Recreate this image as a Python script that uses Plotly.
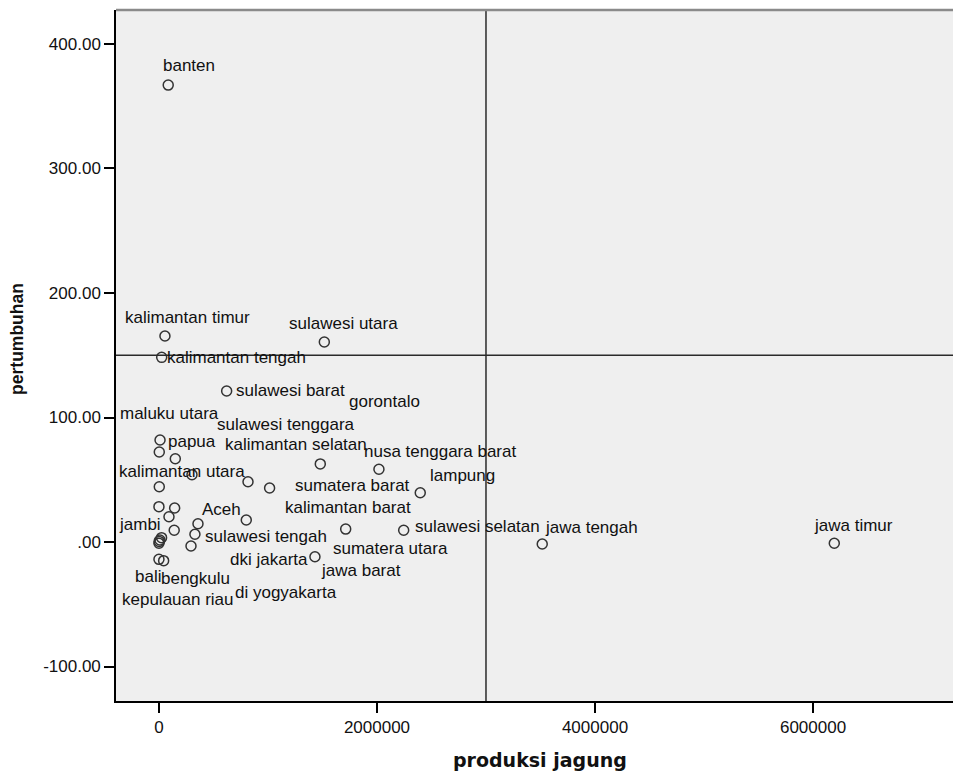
import plotly.graph_objects as go

# ---- data ----
provinces = [
    "banten", "kalimantan timur", "sulawesi utara", "kalimantan tengah", "sulawesi barat",
    "gorontalo", "maluku utara", "sulawesi tenggara", "papua", "kalimantan selatan",
    "nusa tenggara barat", "lampung", "kalimantan utara", "sumatera barat", "kalimantan barat",
    "Aceh", "jambi", "sulawesi tengah", "sulawesi selatan", "jawa tengah",
    "jawa timur", "sumatera utara", "dki jakarta", "jawa barat", "bali",
    "bengkulu", "kepulauan riau", "di yogyakarta",
    "nusa tenggara timur", "riau", "kepulauan bangka belitung", "maluku", "papua barat",
    "sumatera selatan",
]
produksi_jagung = [
    85000, 55000, 1517000, 25000, 621000,
    1480000, 3000, 150000, 10000, 303000,
    2018000, 2397000, 3000, 1015000, 801000,
    358000, 0, 330000, 2245000, 3516000,
    6195000, 1713000, 0, 1431000, 0,
    43000, 2000, 294000,
    817000, 144000, 92000, 140000, 24000,
    9000,
]
pertumbuhan = [
    367.0, 165.5, 160.6, 148.3, 121.3,
    62.7, 72.3, 66.9, 81.9, 54.1,
    58.4, 39.6, 44.4, 43.4, 17.7,
    14.7, 28.4, 6.2, 9.4, -1.6,
    -1.0, 10.4, -1.0, -11.8, -13.9,
    -15.0, 0.5, -3.2,
    48.4, 27.3, 20.3, 9.4, 3.5,
    1.6,
]
# which provinces got a visible label (SPSS hid overlapping ones)
label_shown = [True] * 28 + [False] * 6

y_tick_vals = [-100, 0, 100, 200, 300, 400]
y_tick_text = ["-100.00", ".00", "100.00", "200.00", "300.00", "400.00"]
x_tick_vals = [0, 2000000, 4000000, 6000000]
x_tick_text = ["0", "2000000", "4000000", "6000000"]

ref_x = 3000000
ref_y = 150

# ---- label placement offsets (pixels, right / down from the marker) ----
label_offsets = [
    (-7.3, -19.1), (-42.3, -18.7), (-37.7, -18.1), (3.0, 0.0), (7.3, 0.0),
    (26.4, -62.2), (-41.0, -38.7), (39.9, -34.7), (5.9, 1.7), (30.7, -30.1),
    (-16.7, -17.6), (7.4, -17.7), (-42.6, -15.0), (23.4, -2.5), (37.0, -12.7),
    (2.5, -14.7), (-41.7, 17.4), (8.3, 2.7), (9.6, -3.6), (0.5, -16.7),
    (-22.0, -18.2), (-14.7, 19.9), (69.3, 16.3), (4.0, 14.0), (-26.3, 17.4),
    (-4.4, 17.6), (-39.2, 57.9), (41.7, 47.0),
    None, None, None, None, None, None,
]

FONT = "Arial, Liberation Sans, sans-serif"
TXT = "#111111"

fig = go.Figure()
fig.add_trace(go.Scatter(
    x=produksi_jagung, y=pertumbuhan, mode="markers",
    text=provinces, hoverinfo="text+x+y",
    marker=dict(symbol="circle-open", size=10, color="#333333",
                line=dict(width=1.5, color="#333333")),
    showlegend=False,
))

annotations = []
for name, xv, yv, shown, off in zip(provinces, produksi_jagung, pertumbuhan, label_shown, label_offsets):
    if not shown:
        continue
    dx, dy = off
    annotations.append(dict(
        x=xv, y=yv, xref="x", yref="y", text=name, showarrow=False,
        xanchor="left", yanchor="middle", xshift=dx, yshift=-dy,
        font=dict(family=FONT, size=17, color=TXT),
    ))

# axis titles
annotations.append(dict(
    text="<b>produksi jagung</b>", xref="paper", yref="paper", x=0.5066, y=0,
    xanchor="center", yanchor="middle", yshift=-58.5, showarrow=False,
    font=dict(family="DejaVu Sans, sans-serif", size=19, color=TXT),
))
annotations.append(dict(
    text="<b>pertumbuhan</b>", xref="paper", yref="paper", x=0, y=0.524,
    xanchor="center", yanchor="middle", xshift=-99, textangle=-90, showarrow=False,
    font=dict(family=FONT, size=17.5, color=TXT),
))

shapes = [
    dict(type="line", xref="x", yref="paper", x0=ref_x, x1=ref_x, y0=0, y1=1,
         line=dict(color="#2a2a2a", width=1.5)),
    dict(type="line", xref="paper", yref="y", x0=0, x1=1, y0=ref_y, y1=ref_y,
         line=dict(color="#2a2a2a", width=1.5)),
    dict(type="line", xref="paper", yref="paper", x0=0, x1=1, y0=1, y1=1,
         line=dict(color="#8a8a8a", width=2.5)),
]

fig.update_layout(
    width=954, height=774,
    margin=dict(l=116, r=1, t=10, b=73),
    paper_bgcolor="white", plot_bgcolor="#efefef",
    font=dict(family=FONT, size=17, color=TXT),
    annotations=annotations, shapes=shapes,
    xaxis=dict(range=[-394000, 7284000], tickvals=x_tick_vals, ticktext=x_tick_text,
               ticks="outside", ticklen=10, tickwidth=1.5, tickcolor="#000",
               showline=True, linecolor="#000", linewidth=1.5,
               showgrid=False, zeroline=False,
               tickfont=dict(family=FONT, size=17, color=TXT)),
    yaxis=dict(range=[-127.7, 427.3], tickvals=y_tick_vals, ticktext=y_tick_text,
               ticks="outside", ticklen=10, tickwidth=1.5, tickcolor="#000",
               showline=True, linecolor="#000", linewidth=1.5,
               showgrid=False, zeroline=False,
               tickfont=dict(family=FONT, size=17, color=TXT)),
)

fig.write_html(
    "out.html",
    config={"displayModeBar": False},
    post_script="document.body.style.margin='0px';document.body.style.overflow='hidden';",
)
